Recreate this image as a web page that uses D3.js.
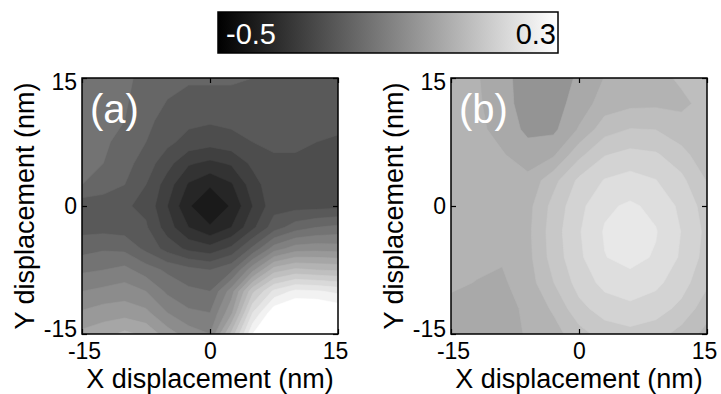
<!DOCTYPE html>
<html>
<head>
<meta charset="utf-8">
<script src="https://cdn.jsdelivr.net/npm/d3@7"></script>
<style>
  body { margin: 0; background: #fff; }
  svg { display: block; font-family: "Liberation Sans", Arial, sans-serif; }
</style>
</head>
<body>
<div id="chart"></div>
<script>
// sample grids (nm): columns left -> right, rows top -> bottom
const xGridA = [-15, -12.5, -10, -7.5, -5, -2.5, 0, 2.5, 5, 7.5, 10, 12.5, 15];
const yGridA = [15, 12.5, 10, 7.5, 5, 2.5, 0, -2.5, -5, -7.5, -10, -12.5, -15];
const xGridB = [-15, -12, -9, -6, -3, 0, 3, 6, 9, 12, 15];
const yGridB = [15, 12, 9, 6, 3, 0, -3, -6, -9, -12, -15];

const axisTicks = [-15, 0, 15];
const colorRange = [-0.5, 0.3];
const colorbarLabels = ['-0.5', '0.3'];
const panelLabels = ['(a)', '(b)'];
const xTitle = 'X displacement (nm)';
const yTitle = 'Y displacement (nm)';

// contour levels of each panel
const levelsA = [-0.46, -0.42, -0.38, -0.34, -0.30, -0.26, -0.22, -0.18, -0.14, -0.10,
                 -0.06, -0.02, 0.02, 0.06, 0.10, 0.14, 0.18, 0.22, 0.26, 0.30];
const levelsB = [-0.036, 0.030, 0.063, 0.096, 0.129, 0.162, 0.195, 0.228];

// panel (a) surface
const surfaceA = [
  [-0.12, -0.12, -0.13, -0.155, -0.17, -0.175, -0.175, -0.175, -0.18, -0.18, -0.185, -0.19, -0.19],
  [-0.12, -0.125, -0.135, -0.16, -0.18, -0.19, -0.19, -0.19, -0.19, -0.19, -0.195, -0.20, -0.20],
  [-0.125, -0.13, -0.14, -0.17, -0.195, -0.21, -0.215, -0.21, -0.205, -0.20, -0.205, -0.21, -0.21],
  [-0.13, -0.135, -0.15, -0.18, -0.21, -0.235, -0.245, -0.235, -0.22, -0.215, -0.215, -0.22, -0.225],
  [-0.13, -0.14, -0.165, -0.20, -0.245, -0.295, -0.31, -0.295, -0.25, -0.225, -0.225, -0.23, -0.235],
  [-0.14, -0.155, -0.18, -0.22, -0.28, -0.345, -0.375, -0.345, -0.28, -0.23, -0.23, -0.235, -0.235],
  [-0.205, -0.21, -0.215, -0.23, -0.30, -0.375, -0.415, -0.375, -0.30, -0.235, -0.235, -0.235, -0.23],
  [-0.195, -0.195, -0.20, -0.215, -0.28, -0.34, -0.375, -0.34, -0.27, -0.20, -0.16, -0.14, -0.13],
  [-0.155, -0.145, -0.15, -0.19, -0.235, -0.27, -0.285, -0.25, -0.17, -0.08, -0.04, -0.035, -0.04],
  [-0.107, -0.10, -0.088, -0.12, -0.148, -0.167, -0.18, -0.15, -0.03, 0.08, 0.11, 0.10, 0.095],
  [-0.06, -0.05, -0.04, -0.06, -0.108, -0.132, -0.14, -0.04, 0.13, 0.23, 0.27, 0.265, 0.25],
  [-0.015, 0.0, 0.003, -0.01, -0.06, -0.092, -0.10, 0.01, 0.22, 0.33, 0.36, 0.36, 0.34],
  [0.03, 0.045, 0.07, 0.05, 0.0, -0.04, -0.06, 0.11, 0.30, 0.40, 0.42, 0.42, 0.38]
];

// panel (b) surface
const surfaceB = [
  [0.075, 0.066, 0.042, 0.012, 0.012, 0.035, 0.064, 0.080, 0.090, 0.099, 0.104],
  [0.074, 0.068, 0.045, 0.012, 0.015, 0.045, 0.078, 0.088, 0.090, 0.092, 0.102],
  [0.075, 0.072, 0.050, 0.022, 0.022, 0.066, 0.115, 0.130, 0.128, 0.104, 0.097],
  [0.075, 0.075, 0.066, 0.045, 0.058, 0.120, 0.160, 0.172, 0.166, 0.143, 0.101],
  [0.075, 0.075, 0.075, 0.072, 0.118, 0.169, 0.197, 0.208, 0.196, 0.170, 0.127],
  [0.075, 0.075, 0.075, 0.085, 0.140, 0.185, 0.222, 0.233, 0.220, 0.187, 0.146],
  [0.075, 0.075, 0.075, 0.088, 0.146, 0.192, 0.231, 0.248, 0.230, 0.194, 0.153],
  [0.075, 0.070, 0.066, 0.086, 0.143, 0.188, 0.227, 0.237, 0.225, 0.190, 0.149],
  [0.068, 0.062, 0.058, 0.080, 0.128, 0.175, 0.205, 0.217, 0.203, 0.176, 0.135],
  [0.055, 0.050, 0.050, 0.070, 0.101, 0.152, 0.177, 0.186, 0.177, 0.153, 0.109],
  [0.050, 0.045, 0.050, 0.066, 0.082, 0.116, 0.144, 0.152, 0.143, 0.116, 0.086]
];

const width = 721, height = 394;
const plotTop = 78, plotSize = 256;
const panelLefts = [82, 451];
const font = '"Liberation Sans", Arial, sans-serif';

const svg = d3.select('#chart').append('svg')
    .attr('width', width)
    .attr('height', height);

const gray = d3.scaleLinear().domain(colorRange).range(['#000', '#fff']).clamp(true);

// colorbar
const cb = {x: 218, y: 12, w: 340, h: 41};
const grad = svg.append('defs').append('linearGradient').attr('id', 'cbgrad');
grad.append('stop').attr('offset', '0%').attr('stop-color', gray(colorRange[0]));
grad.append('stop').attr('offset', '100%').attr('stop-color', gray(colorRange[1]));

svg.append('rect')
    .attr('x', cb.x).attr('y', cb.y).attr('width', cb.w).attr('height', cb.h)
    .attr('fill', 'url(#cbgrad)')
    .attr('stroke', '#000')
    .attr('stroke-width', 1.5);

const cbScale = d3.scaleLinear().domain(colorRange).range([cb.x, cb.x + cb.w]);
svg.selectAll('.cb-label')
    .data(colorbarLabels)
    .join('text')
    .attr('class', 'cb-label')
    .attr('x', (d, i) => i === 0 ? cbScale(+d) + 8 : cbScale(+d) - 2)
    .attr('y', cb.y + 32)
    .attr('text-anchor', (d, i) => i === 0 ? 'start' : 'end')
    .attr('font-size', 29)
    .attr('fill', (d, i) => i === 0 ? '#fff' : '#000')
    .text(d => d);

function drawPanel(idx, xGrid, yGrid, surface, levels) {
    const left = panelLefts[idx];
    const x = d3.scaleLinear().domain([-15, 15]).range([left, left + plotSize]);
    const y = d3.scaleLinear().domain([-15, 15]).range([plotTop + plotSize, plotTop]);

    // d3.contours puts sample i at i + 0.5
    const nx = xGrid.length, ny = yGrid.length;
    const gx = d3.scaleLinear().domain([0.5, nx - 0.5]).range([x(xGrid[0]), x(xGrid[nx - 1])]);
    const gy = d3.scaleLinear().domain([0.5, ny - 0.5]).range([y(yGrid[0]), y(yGrid[ny - 1])]);
    const path = d3.geoPath(d3.geoTransform({
        point(px, py) { this.stream.point(gx(px), gy(py)); }
    }));

    const contours = d3.contours()
        .size([nx, ny])
        .thresholds(levels)(surface.flat());

    svg.append('clipPath').attr('id', 'clip' + idx)
        .append('rect')
        .attr('x', left).attr('y', plotTop)
        .attr('width', plotSize).attr('height', plotSize);

    svg.append('g')
        .attr('clip-path', 'url(#clip' + idx + ')')
        .selectAll('path')
        .data(contours)
        .join('path')
        .attr('d', path)
        .attr('fill', d => gray(d.value))
        .attr('stroke', d => gray(d.value))
        .attr('stroke-width', 0.6);

    // axes, ticks pointing inward
    const fmt = d => String(d);
    const bottom = svg.append('g')
        .attr('transform', 'translate(0,' + (plotTop + plotSize) + ')')
        .call(d3.axisBottom(x).tickValues(axisTicks).tickFormat(fmt)
            .tickSizeInner(-5).tickSizeOuter(0).tickPadding(9));
    const leftAxis = svg.append('g')
        .attr('transform', 'translate(' + left + ',0)')
        .call(d3.axisLeft(y).tickValues(axisTicks).tickFormat(fmt)
            .tickSizeInner(-5).tickSizeOuter(0).tickPadding(5));
    svg.append('g')
        .attr('transform', 'translate(0,' + plotTop + ')')
        .call(d3.axisTop(x).tickValues(axisTicks).tickSizeInner(-5).tickSizeOuter(0).tickFormat(''));
    svg.append('g')
        .attr('transform', 'translate(' + (left + plotSize) + ',0)')
        .call(d3.axisRight(y).tickValues(axisTicks).tickSizeInner(-5).tickSizeOuter(0).tickFormat(''));

    svg.selectAll('.domain').remove();
    svg.selectAll('.tick line').attr('stroke', '#000').attr('stroke-width', 1.2);
    [bottom, leftAxis].forEach(a => a.selectAll('text')
        .attr('font-size', 23)
        .attr('font-family', font)
        .attr('fill', '#000'));

    // end labels sit a little inside the box, as in the original
    bottom.selectAll('text').attr('dx', d => d < 0 ? 2 : d > 0 ? -3 : 0);
    leftAxis.selectAll('text').attr('dy', d => d < 0 ? '0.1em' : d > 0 ? '0.5em' : '0.32em');

    // frame
    svg.append('rect')
        .attr('x', left).attr('y', plotTop)
        .attr('width', plotSize).attr('height', plotSize)
        .attr('fill', 'none')
        .attr('stroke', '#000')
        .attr('stroke-width', 1.5);

    // panel letter
    svg.append('text')
        .attr('x', left + 8)
        .attr('y', plotTop + 45)
        .attr('font-size', 40)
        .attr('fill', '#fff')
        .text(panelLabels[idx]);

    // axis titles
    svg.append('text')
        .attr('x', left + plotSize / 2)
        .attr('y', 388)
        .attr('text-anchor', 'middle')
        .attr('font-size', 27)
        .text(xTitle);

    svg.append('text')
        .attr('transform', 'translate(' + (left - 48) + ',' + (plotTop + plotSize / 2) + ') rotate(-90)')
        .attr('text-anchor', 'middle')
        .attr('font-size', 27)
        .text(yTitle);
}

drawPanel(0, xGridA, yGridA, surfaceA, levelsA);
drawPanel(1, xGridB, yGridB, surfaceB, levelsB);
</script>
</body>
</html>
